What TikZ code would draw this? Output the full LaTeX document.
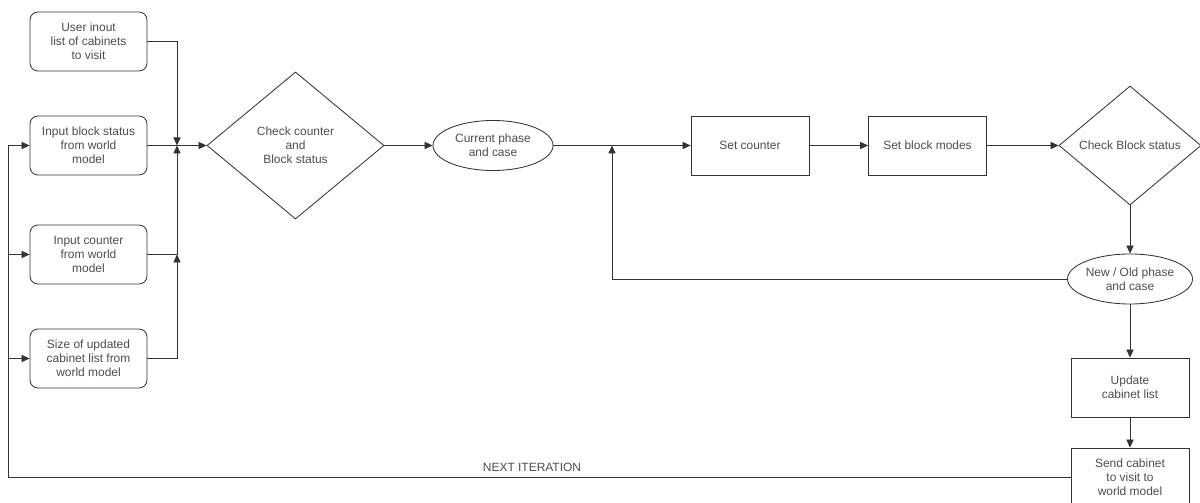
\documentclass[tikz,border=0pt]{standalone}
\usepackage{fontspec}
\setmainfont{Liberation Sans}
\usetikzlibrary{arrows.meta,shapes.geometric}

\begin{document}
\begin{tikzpicture}[x=0.025cm, y=-0.025cm, >={Triangle[length=2mm,width=1.8mm]}, line width=0.6pt,
  every node/.style={font=\fontsize{8.5}{10}\selectfont, text=black!70, align=center},
  link/.style={draw=black!80, ->},
  inbox/.style={draw=black!80, rounded corners=2mm, minimum width=2.925cm, minimum height=1.475cm, inner sep=1pt},
  stepbox/.style={draw=black!80, minimum width=2.95cm, minimum height=1.475cm, inner sep=1pt},
  decide/.style={draw=black!80, diamond, inner sep=0pt},
  state/.style={draw=black!80, ellipse, minimum width=3cm, minimum height=1.25cm, inner sep=0pt}]
  \useasboundingbox (0,0) rectangle (1200,503);
  % inputs
  \node[inbox] (user) at (88.5,41.5) {User inout\\list of cabinets\\to visit};
  \node[inbox] (blk) at (88.5,145.5) {Input block status\\from world\\model};
  \node[inbox] (cnt) at (88.5,254.5) {Input counter\\from world\\model};
  \node[inbox] (sz) at (88.5,358.5) {Size of updated\\cabinet list from\\world model};
  % main flow
  \node[decide, minimum width=4.425cm, minimum height=3.675cm] (chk) at (295.5,145.5) {Check counter\\and\\Block status};
  \node[state] (cur) at (493,145.5) {Current phase\\and case};
  \node[stepbox] (setc) at (750,145.5) {Set counter};
  \node[stepbox] (setb) at (927.5,145.5) {Set block modes};
  \node[decide, minimum width=3.55cm, minimum height=2.975cm] (chkb) at (1130,145.5) {Check Block status};
  \node[state] (newold) at (1130,279) {New / Old phase\\and case};
  \node[stepbox] (upd) at (1130,387.5) {Update\\cabinet list};
  \node[stepbox] (send) at (1130,477.5) {Send cabinet\\to visit to\\world model};
  \coordinate (jn) at (177,145.5);
  \coordinate (jc) at (177,254.5);
  \coordinate (loopj) at (612,145.5);
  \coordinate (lc) at (8,477.5);
  % edges
  \draw[link] (user.east) -| (jn);
  \draw[link] (cnt.east) -| (jn);
  \draw[link] (sz.east) -| (jc);
  \draw[link] (blk.east) -- (chk.west);
  \draw[link] (chk.east) -- (cur.west);
  \draw[link] (cur.east) -- (setc.west);
  \draw[link] (setc) -- (setb);
  \draw[link] (setb) -- (chkb);
  \draw[link] (chkb) -- (newold);
  \draw[link] (newold.west) -| (loopj);
  \draw[link] (newold) -- (upd);
  \draw[link] (upd) -- (send);
  % next iteration
  \draw[link] (send.west) -- (lc) |- (blk.west);
  \draw[link] (lc |- cnt.west) -- (cnt.west);
  \draw[link] (lc |- sz.west) -- (sz.west);
  \node (nxt) at (532,467) {NEXT ITERATION};
\end{tikzpicture}
\end{document}
